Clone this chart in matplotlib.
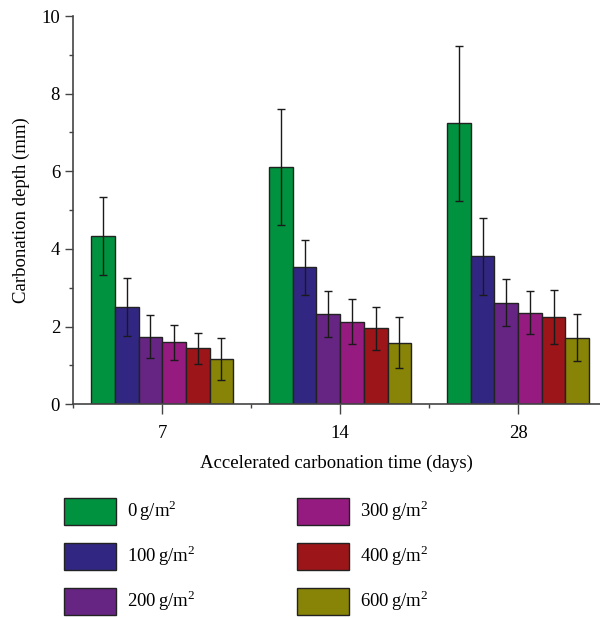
import numpy as np
import matplotlib
matplotlib.use('Agg')
import matplotlib.pyplot as plt
from matplotlib.ticker import MultipleLocator

plt.rcParams['font.family'] = ['Liberation Serif', 'DejaVu Serif']
plt.rcParams['mathtext.fontset'] = 'custom'
plt.rcParams['mathtext.rm'] = 'Liberation Serif'

# data
days = ['7', '14', '28']
dosages = ['0', '100', '200', '300', '400', '600']
depth = {
    '0':   [4.34, 6.11, 7.24],
    '100': [2.51, 3.53, 3.81],
    '200': [1.74, 2.33, 2.62],
    '300': [1.60, 2.13, 2.36],
    '400': [1.44, 1.96, 2.25],
    '600': [1.17, 1.59, 1.72],
}
err = {
    '0':   [1.00, 1.50, 2.00],
    '100': [0.75, 0.71, 1.00],
    '200': [0.55, 0.60, 0.60],
    '300': [0.45, 0.59, 0.55],
    '400': [0.40, 0.55, 0.70],
    '600': [0.55, 0.65, 0.60],
}
colors = ['#00923F', '#312783', '#662483', '#951B81', '#9C1519', '#878407']

fig = plt.figure(figsize=(6, 6.18), dpi=100)
ax = fig.add_axes([0.122, 0.3458, 0.878, 0.6283])

x = np.arange(1, len(days) + 1)
w = 0.133
for i, d in enumerate(dosages):
    pos = x + (i - 2.5) * w
    ax.bar(pos, depth[d], width=w, color=colors[i], edgecolor='#222222',
           linewidth=1.0, label=d + r'$\,$g/m$^{2}$', zorder=2)
    ax.errorbar(pos, depth[d], yerr=err[d], fmt='none', ecolor='#1a1a1a',
                elinewidth=1.0, capsize=2.6, capthick=1.0, zorder=3)

ax.set_xlim(0.5, 3.46)
ax.set_ylim(0, 10)
ax.set_xticks(x)
ax.set_xticklabels(days)
ax.xaxis.set_minor_locator(MultipleLocator(0.5))
ax.yaxis.set_major_locator(MultipleLocator(2))
ax.yaxis.set_minor_locator(MultipleLocator(1))
ax.tick_params(axis='both', which='major', direction='out', length=6,
               width=1.0, color='#444444', labelsize=13.5)
ax.tick_params(axis='both', which='minor', direction='out', length=3,
               width=1.0, color='#444444')
ax.tick_params(axis='x', which='major', length=7, pad=8)
for s in ['top', 'right']:
    ax.spines[s].set_visible(False)
for s in ['left', 'bottom']:
    ax.spines[s].set_color('#444444')
    ax.spines[s].set_linewidth(1.2)

ax.set_xlabel('Accelerated carbonation time (days)', fontsize=13.5, labelpad=9)
ax.set_ylabel('Carbonation depth (mm)', fontsize=13.5, labelpad=8)

handles, labels = ax.get_legend_handles_labels()
fig.legend(handles, labels, ncol=2, loc='upper left',
           bbox_to_anchor=(0.078, 0.222), frameon=False, fontsize=13.5,
           handlelength=2.8, handleheight=1.85, labelspacing=0.95,
           columnspacing=5.38, handletextpad=0.6)

plt.savefig('out.png', dpi=100)
plt.close()
